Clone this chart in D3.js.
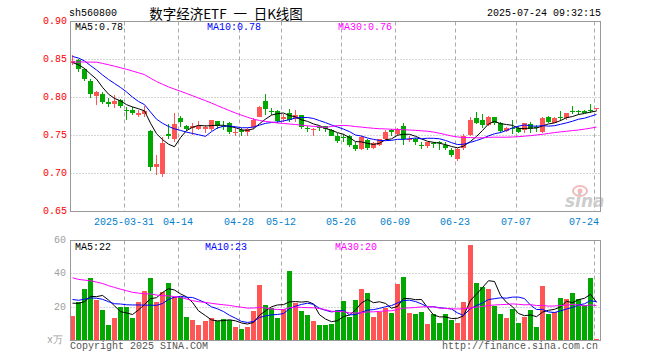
<!DOCTYPE html>
<html><head><meta charset="utf-8">
<script src="https://cdn.jsdelivr.net/npm/d3@7/dist/d3.min.js"></script>
<style>body{margin:0;background:#fff}svg{display:block}</style>
</head><body>
<svg id="chart" width="660" height="360"></svg>
<script>
// ---- data ----
const dates = ["03-18","03-19","03-20","03-21","03-24","03-25","03-26","03-27","03-28","03-31",
"04-01","04-02","04-03","04-07","04-08","04-09","04-10","04-11","04-14","04-15",
"04-16","04-17","04-18","04-21","04-22","04-23","04-24","04-25","04-28","04-29",
"04-30","05-06","05-07","05-08","05-09","05-12","05-13","05-14","05-15","05-16",
"05-19","05-20","05-21","05-22","05-23","05-26","05-27","05-28","05-29","05-30",
"06-03","06-04","06-05","06-06","06-09","06-10","06-11","06-12","06-13","06-16",
"06-17","06-18","06-19","06-20","06-23","06-24","06-25","06-26","06-27","06-30",
"07-01","07-02","07-03","07-04","07-07","07-08","07-09","07-10","07-11","07-14",
"07-15","07-16","07-17","07-18","07-21","07-22","07-23","07-24"];
const open = [.845,.849,.837,.822,.802,.805,.794,.792,.797,.784,
.784,.777,.778,.756,.708,.699,.752,.745,.773,.763,
.760,.759,.758,.759,.769,.762,.766,.753,.757,.755,
.761,.775,.796,.782,.782,.772,.780,.772,.777,.760,
.757,.761,.762,.757,.750,.748,.749,.737,.732,.744,
.734,.738,.746,.757,.752,.763,.744,.746,.738,.736,
.740,.741,.738,.731,.719,.733,.751,.773,.771,.764,
.775,.767,.756,.760,.760,.757,.765,.761,.755,.775,
.767,.775,.773,.782,.782,.782,.784,.785];
const high = [.856,.851,.839,.824,.808,.807,.800,.803,.798,.787,
.787,.784,.789,.757,.725,.748,.765,.780,.776,.764,
.766,.769,.764,.771,.769,.769,.768,.760,.760,.760,
.773,.789,.804,.786,.784,.778,.785,.784,.777,.763,
.760,.763,.763,.759,.753,.752,.751,.742,.749,.746,
.742,.746,.757,.759,.760,.766,.750,.747,.742,.742,
.742,.743,.741,.733,.733,.752,.774,.781,.778,.776,
.775,.768,.761,.770,.762,.767,.768,.764,.775,.776,
.774,.782,.780,.789,.784,.783,.792,.786];
const low = [.843,.834,.822,.799,.790,.791,.788,.786,.786,.770,
.777,.775,.775,.703,.698,.696,.745,.742,.761,.756,
.751,.757,.753,.756,.759,.757,.752,.750,.750,.750,
.759,.774,.777,.777,.767,.768,.768,.768,.758,.754,
.749,.756,.754,.749,.740,.742,.735,.730,.731,.731,
.732,.736,.744,.749,.750,.738,.742,.738,.732,.733,
.733,.731,.731,.722,.717,.731,.750,.765,.760,.763,
.764,.753,.754,.752,.753,.753,.753,.754,.753,.767,
.766,.769,.770,.778,.777,.779,.780,.782];
const close = [.848,.837,.824,.805,.807,.794,.792,.796,.789,.782,
.779,.780,.782,.708,.713,.740,.750,.765,.768,.759,
.762,.763,.761,.770,.762,.761,.755,.754,.755,.759,
.771,.788,.785,.781,.769,.775,.771,.777,.761,.759,
.758,.760,.758,.750,.743,.747,.738,.732,.748,.733,
.740,.746,.755,.754,.757,.746,.746,.742,.737,.741,
.739,.740,.733,.725,.732,.750,.771,.766,.764,.775,
.767,.756,.760,.759,.755,.766,.759,.760,.773,.768,
.773,.774,.779,.781,.781,.780,.783,.786];
const volume = [15,23.4,31.2,37.8,24.2,18.6,9.6,13.8,20.4,20.4,
13.8,23.4,30,37.8,23.4,29.4,34.8,26,26.4,14.4,
12.6,9.6,11.6,13.6,11.6,13.2,12.2,8.4,7.2,8.4,
18,33.6,21.6,19.6,13.8,19,42,22.4,18,15.6,
11.6,9.6,9.6,10,18.6,24,14.4,24.6,31.2,28.8,
14.4,17.2,19.6,16.8,34.2,38.4,16.8,16.2,17.4,10.2,
16.2,10.8,16.2,12.6,10.8,23.4,57.6,34.8,32.4,31.2,
21,16.2,13.8,19.2,10.8,14.4,18.6,8.4,33,16.2,
17.4,25.8,25.2,28.8,25.2,21.6,37.8,1.2];
// sessions before the visible window (estimated from where the MA lines start)
const priorClose = [.835,.825,.810,.808,.842,.847,.852,.849,.845,.847,.850,.853,.848,.846,.849,
.852,.855,.851,.847,.849,.858,.862,.866,.864,.860,.852,.848,.842,.840];
const priorVolume = [52,45,50,47,44,49,46,51,48,43,38,42,40,44,39,41,37,43,42,42,28,25,30,26,25,24,26,22,25];
const tickDates = ["03-31","04-14","04-28","05-12","05-26","06-09","06-23","07-07","07-24"];
const tickLabels = ["2025-03-31","04-14","04-28","05-12","05-26","06-09","06-23","07-07","07-24"];
const priceTicks = [0.90,0.85,0.80,0.75,0.70,0.65];
const volTicks = [60,40,20];

// ---- drawing ----
const svg = d3.select("#chart");
const mono = "'Liberation Mono','DejaVu Sans Mono',monospace";
const UP = "#ff5555", DN = "#00a800", GRID = "#aaaaaa", BORDER = "#999999";
const maCols = ["#000000","#0000ff","#ff00ff"];
const maN = [5,10,30];

const x = d3.scaleBand().domain(dates).range([70, 600]).paddingInner(0).paddingOuter(0);
const xl = d => Math.round(x(d));
const yP = d3.scaleLinear().domain([0.65, 0.90]).range([211.5, 21.5]);
const yV = d3.scaleLinear().domain([0, 60]).range([340.5, 240.5]);

function ma(series, prior, n) {
  const all = prior.concat(series), off = prior.length;
  return series.map((_, i) => d3.mean(all.slice(off + i - n + 1, off + i + 1)));
}
const pMA = maN.map(n => ma(close, priorClose, n));
const vMA = maN.map(n => ma(volume, priorVolume, n));
const isUp = i => close[i] >= open[i];

// grids
const g = svg.append("g");
priceTicks.slice(1, -1).forEach(t => {
  const yy = Math.round(yP(t) - 0.5) + 0.5;
  g.append("line").attr("x1", 70.5).attr("x2", 600.5).attr("y1", yy).attr("y2", yy)
    .attr("stroke", GRID).attr("stroke-dasharray", "1,2");
});
volTicks.slice(1).forEach(t => {
  const yy = Math.floor(yV(t)) + 0.5;
  g.append("line").attr("x1", 70.5).attr("x2", 600.5).attr("y1", yy).attr("y2", yy)
    .attr("stroke", GRID).attr("stroke-dasharray", "1,2");
});
tickDates.forEach(d => {
  const xx = xl(d) + 0.5;
  [[21.5, 211.5], [240.5, 340.5]].forEach(([a, b]) =>
    g.append("line").attr("x1", xx).attr("x2", xx).attr("y1", a).attr("y2", b)
      .attr("stroke", GRID).attr("stroke-dasharray", "4,3"));
});

// watermark
const wm = svg.append("g").attr("opacity", 0.9);
wm.append("ellipse").attr("cx", 580).attr("cy", 191).attr("rx", 7).attr("ry", 5).attr("fill", "none").attr("stroke", "#f0b4b4").attr("stroke-width", 2);
wm.append("circle").attr("cx", 580).attr("cy", 191).attr("r", 2.5).attr("fill", "#f0b4b4");
wm.append("text").attr("x", 565).attr("y", 207).attr("font-family", "'DejaVu Sans',sans-serif").attr("font-size", 17)
  .attr("font-style", "italic").attr("font-weight", "bold").attr("fill", "#c8c8c8").text("sina");

// candles and volume bars
const cg = svg.append("g").attr("shape-rendering", "crispEdges");
dates.forEach((d, i) => {
  const col = isUp(i) ? UP : DN, cx = xl(d);
  cg.append("line").attr("x1", cx + 2.5).attr("x2", cx + 2.5).attr("y1", yP(high[i])).attr("y2", yP(low[i])).attr("stroke", col);
  const top = yP(Math.max(open[i], close[i])), bot = yP(Math.min(open[i], close[i]));
  cg.append("rect").attr("x", cx).attr("width", 5).attr("y", top).attr("height", Math.max(1, bot - top)).attr("fill", col);
  cg.append("rect").attr("x", cx).attr("width", 5).attr("y", yV(volume[i])).attr("height", 340.5 - yV(volume[i])).attr("fill", col);
});

// MA lines
const lp = (arr, ys) => d3.line().x((_, i) => xl(dates[i]) + 2.5).y(v => ys(v))(arr);
pMA.forEach((arr, k) => svg.append("path").attr("d", lp(arr, yP)).attr("fill", "none").attr("stroke", maCols[k]).attr("stroke-width", 1));
vMA.forEach((arr, k) => svg.append("path").attr("d", lp(arr, yV)).attr("fill", "none").attr("stroke", maCols[k]).attr("stroke-width", 1));

// frames
svg.append("rect").attr("x", 70.5).attr("y", 21.5).attr("width", 530).attr("height", 190).attr("fill", "none").attr("stroke", BORDER);
svg.append("rect").attr("x", 70.5).attr("y", 240.5).attr("width", 530).attr("height", 100).attr("fill", "none").attr("stroke", BORDER);

// texts
const txt = (xx, yy, s, col, anchor = "start", size = 10, fam = mono) =>
  svg.append("text").attr("x", xx).attr("y", yy).attr("fill", col).attr("font-size", size).attr("font-family", fam)
    .attr("text-anchor", anchor).attr("dominant-baseline", "central").style("white-space", "pre").text(s);

txt(69, 13, "sh560800", "#000");
txt(226, 13, "数字经济ETF\u2002一\u2002日K线图", "#000", "middle", 13.5, "'Noto Sans CJK SC',sans-serif");
txt(601, 13, "2025-07-24 09:32:15", "#000", "end");

priceTicks.forEach(t => txt(67, yP(t), t.toFixed(2), "#ff0000", "end"));
volTicks.forEach(t => txt(66, yV(t), String(t), "#a0a0a0", "end"));
txt(63, 340, "x万", "#a0a0a0", "end");

tickDates.forEach((d, k) => {
  const last = k === tickDates.length - 1;
  txt(last ? 599 : xl(d), 222, tickLabels[k], "#0080cc", last ? "end" : "middle");
});

const lastI = dates.length - 1;
const pPos = [75, 207, 338], vPos = [75, 205, 335];
maN.forEach((n, k) => {
  txt(pPos[k], 27, "MA" + n + ":" + pMA[k][lastI].toFixed(2), maCols[k]);
  txt(vPos[k], 247, "MA" + n + ":" + Math.floor(vMA[k][lastI]), maCols[k]);
});

txt(70, 346, "Copyright 2025 SINA.COM", "#555555");
txt(598, 346, "http://finance.sina.com.cn", "#555555", "end");
</script>
</body></html>
